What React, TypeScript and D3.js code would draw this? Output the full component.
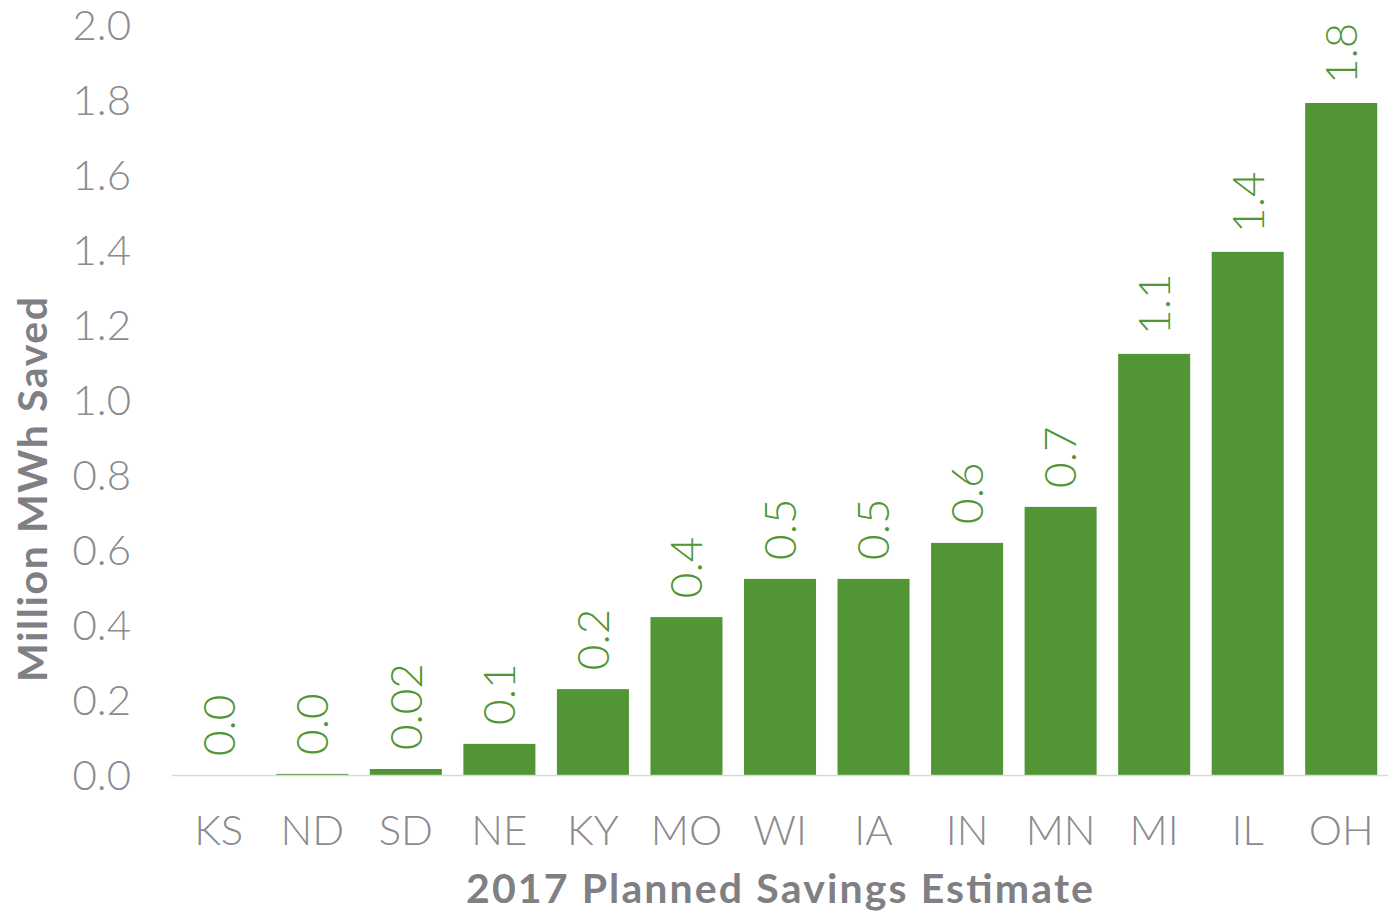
import React from "react";
import * as d3 from "d3";

const states = ["KS", "ND", "SD", "NE", "KY", "MO", "WI", "IA", "IN", "MN", "MI", "IL", "OH"];
const savings = [0, 0.003, 0.016, 0.083, 0.229, 0.421, 0.523, 0.523, 0.619, 0.715, 1.123, 1.395, 1.792];
const labels = ["0.0", "0.0", "0.02", "0.1", "0.2", "0.4", "0.5", "0.5", "0.6", "0.7", "1.1", "1.4", "1.8"];
const yTicks = [0, 0.2, 0.4, 0.6, 0.8, 1.0, 1.2, 1.4, 1.6, 1.8, 2.0];

const W = 1393;
const H = 914;
const left = 172;
const right = 1388;
const top = 25;
const bottom = 775;
const GREEN = "#529535";
const GRAY = "#8b8b8f";
const TITLE = "#808084";
const FONT = "Lato, 'Open Sans', sans-serif";

export default function App() {
  const x = d3.scaleBand<string>().domain(states).range([left, right]).paddingInner(0.23).paddingOuter(0.115);
  const y = d3.scaleLinear().domain([0, 2]).range([bottom, top]);

  return (
    <svg width={W} height={H} style={{ position: "absolute", left: 0, top: 0 }}>
      <rect width={W} height={H} fill="#fff" />
      {yTicks.map((t) => (
        <text
          key={t}
          x={131}
          y={y(t)}
          dy="0.36em"
          textAnchor="end"
          fontFamily={FONT}
          fontWeight={300}
          fontSize={42}
          fill={GRAY}
        >
          {d3.format(".1f")(t)}
        </text>
      ))}
      {states.map((s, i) => {
        const bx = x(s)!;
        const bw = x.bandwidth();
        const cx = bx + bw / 2;
        const yt = y(savings[i]);
        return (
          <g key={s}>
            <rect x={bx} y={yt} width={bw} height={bottom - yt} fill={GREEN} />
            <text
              transform={`translate(${cx},${yt - 19}) rotate(-90)`}
              dy="0.36em"
              textAnchor="start"
              fontFamily={FONT}
              fontWeight={300}
              fontSize={44}
              fill={GREEN}
            >
              {labels[i]}
            </text>
            <text
              x={cx}
              y={845}
              textAnchor="middle"
              fontFamily={FONT}
              fontWeight={300}
              fontSize={42}
              fill={GRAY}
            >
              {s}
            </text>
          </g>
        );
      })}
      <line x1={left} x2={right} y1={bottom + 0.5} y2={bottom + 0.5} stroke="#d9d9d9" strokeWidth={1.5} />
      <text
        x={466}
        y={903}
        textAnchor="start"
        textLength={627}
        fontFamily={FONT}
        fontWeight={700}
        fontSize={41}
        fill={TITLE}
      >
        2017 Planned Savings Estimate
      </text>
      <text
        transform={`translate(47,682) rotate(-90)`}
        textAnchor="start"
        textLength={385}
        fontFamily={FONT}
        fontWeight={700}
        fontSize={41}
        fill={TITLE}
      >
        Million MWh Saved
      </text>
    </svg>
  );
}
